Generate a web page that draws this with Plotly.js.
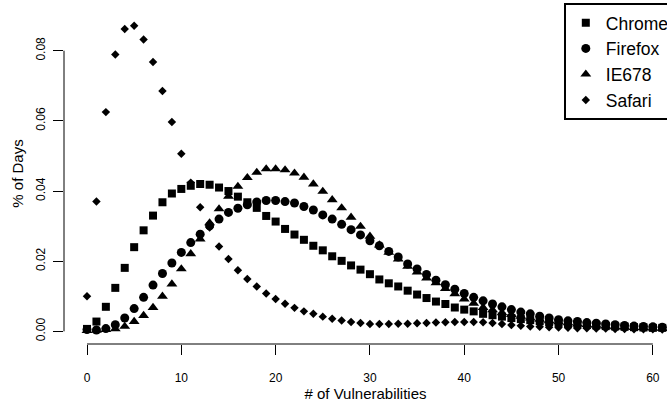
<!DOCTYPE html>
<html><head><meta charset="utf-8">
<script src="https://cdn.plot.ly/plotly-3.0.1.min.js"></script>
<style>html,body{margin:0;padding:0;overflow:hidden;background:#fff}</style>
</head><body><div id="chart" style="width:667px;height:404px"></div>
<script>
const vulns = [0,1,2,3,4,5,6,7,8,9,10,11,12,13,14,15,16,17,18,19,20,21,22,23,24,25,26,27,28,29,30,31,32,33,34,35,36,37,38,39,40,41,42,43,44,45,46,47,48,49,50,51,52,53,54,55,56,57,58,59,60,61];
const chrome = [0.0007,0.0028,0.0070,0.0124,0.0181,0.0240,0.0288,0.0330,0.0368,0.0393,0.0406,0.0415,0.0420,0.0418,0.0410,0.0400,0.0384,0.0368,0.0352,0.0329,0.0313,0.0292,0.0276,0.0261,0.0244,0.0231,0.0214,0.0201,0.0188,0.0176,0.0163,0.0148,0.0137,0.0128,0.0116,0.0105,0.0095,0.0085,0.0078,0.0068,0.0062,0.0057,0.0050,0.0046,0.0042,0.0038,0.0035,0.0032,0.0029,0.0026,0.0024,0.0022,0.0020,0.0018,0.0017,0.0015,0.0014,0.0013,0.0012,0.0011,0.0010,0.0010];
const firefox = [0.0005,0.0004,0.0008,0.0019,0.0038,0.0065,0.0097,0.0132,0.0165,0.0195,0.0225,0.0253,0.0277,0.0301,0.0320,0.0339,0.0351,0.0361,0.0369,0.0373,0.0373,0.0370,0.0366,0.0356,0.0346,0.0332,0.0320,0.0305,0.0290,0.0275,0.0258,0.0244,0.0228,0.0212,0.0192,0.0178,0.0162,0.0146,0.0133,0.0120,0.0108,0.0097,0.0087,0.0078,0.0070,0.0062,0.0055,0.0050,0.0043,0.0038,0.0033,0.0030,0.0028,0.0025,0.0023,0.0021,0.0019,0.0017,0.0015,0.0014,0.0013,0.0012];
const ie678 = [0.0002,0.0003,0.0005,0.0007,0.0014,0.0028,0.0045,0.0068,0.0100,0.0135,0.0178,0.0221,0.0263,0.0309,0.0349,0.0385,0.0413,0.0438,0.0453,0.0463,0.0463,0.0460,0.0451,0.0439,0.0420,0.0399,0.0375,0.0352,0.0325,0.0299,0.0271,0.0246,0.0225,0.0206,0.0185,0.0169,0.0152,0.0138,0.0122,0.0107,0.0092,0.0080,0.0068,0.0061,0.0053,0.0048,0.0043,0.0038,0.0034,0.0030,0.0027,0.0024,0.0021,0.0019,0.0017,0.0015,0.0013,0.0012,0.0011,0.0010,0.0009,0.0008];
const safari = [0.0100,0.0370,0.0625,0.0789,0.0862,0.0871,0.0832,0.0768,0.0685,0.0597,0.0506,0.0424,0.0354,0.0296,0.0242,0.0206,0.0174,0.0149,0.0128,0.0108,0.0092,0.0079,0.0067,0.0057,0.0050,0.0042,0.0036,0.0031,0.0027,0.0024,0.0021,0.0021,0.0021,0.0022,0.0022,0.0023,0.0024,0.0025,0.0026,0.0027,0.0027,0.0027,0.0026,0.0024,0.0021,0.0018,0.0016,0.0014,0.0013,0.0012,0.0011,0.0010,0.0009,0.0009,0.0008,0.0008,0.0007,0.0007,0.0006,0.0006,0.0006,0.0005];
const seriesNames = ['Chrome','Firefox','IE678','Safari'];
const xTicks = [0,10,20,30,40,50,60];
const yTicks = [0,0.02,0.04,0.06,0.08];
const yTickText = ['0.00','0.02','0.04','0.06','0.08'];

const FONT = '"Liberation Sans", Arial, Helvetica, sans-serif';
const seriesData = [chrome, firefox, ie678, safari];
const symbols = ['square','circle','triangle-up','diamond'];
const sizes = [8, 9, 9.5, 6.5];

const traces = seriesData.map((vals, i) => ({
  type: 'scatter', mode: 'markers', name: seriesNames[i],
  x: vulns, y: vals,
  marker: {symbol: symbols[i], size: sizes[i], color: '#000', line: {width: 0}},
  cliponaxis: true
}));

const layout = {
  width: 667, height: 404,
  margin: {l: 64, r: 0, t: 3, b: 60, autoexpand: false},
  paper_bgcolor: '#fff', plot_bgcolor: '#fff',
  font: {family: FONT, color: '#000', size: 12},
  showlegend: true,
  legend: {
    x: 0.8292, y: 1, xanchor: 'left', yanchor: 'top',
    bordercolor: '#000', borderwidth: 1.8, bgcolor: '#fff',
    font: {family: FONT, size: 17.5, color: '#000'},
    tracegroupgap: 0
  },
  xaxis: {
    range: [-2.44, 61.5], showgrid: false, zeroline: false, showline: false,
    tickmode: 'array', tickvals: xTicks, ticktext: xTicks.map(String),
    ticks: 'outside', ticklen: 10, tickwidth: 1, tickcolor: '#000',
    tickfont: {size: 12, family: FONT}, ticklabelstandoff: 13,
    title: {text: '# of Vulnerabilities', font: {size: 15, family: FONT}, standoff: 4}
  },
  yaxis: {
    range: [-0.0036, 0.0936], showgrid: false, zeroline: false, showline: false,
    tickmode: 'array', tickvals: yTicks, ticktext: yTickText, tickangle: -90,
    ticks: 'outside', ticklen: 10, tickwidth: 1, tickcolor: '#000',
    tickfont: {size: 12, family: FONT}, ticklabelstandoff: 3,
    title: {text: '% of Days', font: {size: 15, family: FONT}, standoff: 6}
  },
  shapes: [
    {type: 'line', xref: 'x', yref: 'paper', x0: xTicks[0], x1: xTicks[xTicks.length-1], y0: 0, y1: 0, line: {color: '#000', width: 1}},
    {type: 'line', xref: 'paper', yref: 'y', x0: 0, x1: 0, y0: yTicks[0], y1: yTicks[yTicks.length-1], line: {color: '#000', width: 1}}
  ],
  hovermode: false
};

Plotly.newPlot('chart', traces, layout, {displayModeBar: false, staticPlot: true});
</script></body></html>
